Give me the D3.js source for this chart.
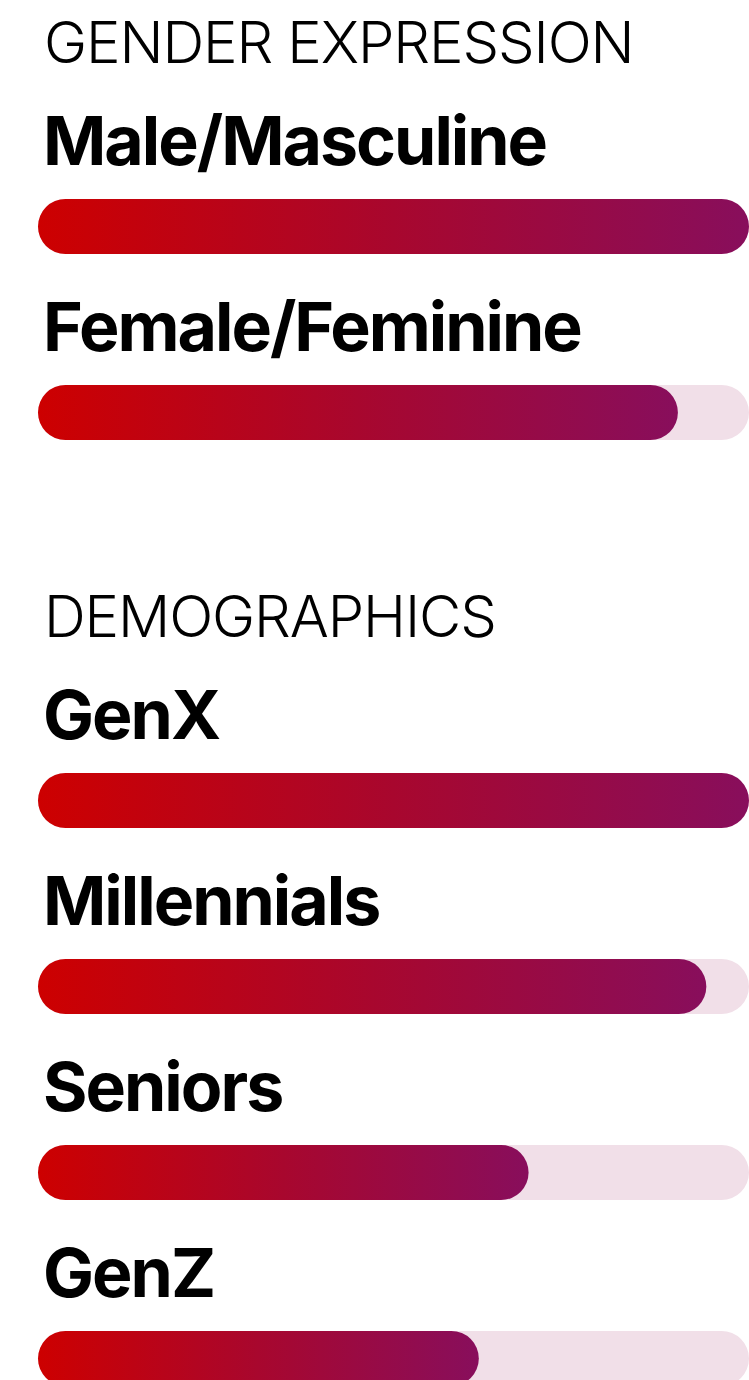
<!DOCTYPE html>
<html>
<head>
<meta charset="utf-8">
<script src="https://cdn.jsdelivr.net/npm/d3@7"></script>
<style>
  body { margin: 0; background: #fff; overflow: hidden; }
</style>
</head>
<body>
<script>
const width = 749;
const height = 1380;

// data
const sections = ["GENDER EXPRESSION", "DEMOGRAPHICS"];
const categories = [
  ["Male/Masculine", "Female/Feminine"],
  ["GenX", "Millennials", "Seniors", "GenZ"]
];
const values = [
  [100, 90],
  [100, 94, 69, 62]
];

const barLeft = 38;
const barRight = 749;
const barHeight = 55;
const rowStep = 186;
const headToBar = 136;
const labelGap = 34;
const sectionGap = 202;

const svg = d3.select("body").append("svg")
  .attr("width", width)
  .attr("height", height);

const defs = svg.append("defs");
const grad = defs.append("linearGradient")
  .attr("id", "barGrad")
  .attr("x1", "0%").attr("x2", "100%")
  .attr("y1", "0%").attr("y2", "0%");
grad.append("stop").attr("offset", "0%").attr("stop-color", "#cd0000");
grad.append("stop").attr("offset", "50%").attr("stop-color", "#a8072e");
grad.append("stop").attr("offset", "100%").attr("stop-color", "#880e5c");

const x = d3.scaleLinear().domain([0, 100]).range([barLeft, barRight]);

let headY = 63;
sections.forEach((title, s) => {
  const g = svg.append("g");

  g.append("text")
    .attr("x", 44)
    .attr("y", headY)
    .attr("font-family", "Inter, Lato, sans-serif")
    .attr("font-weight", 300)
    .attr("font-size", 58)
    .attr("letter-spacing", -1.1)
    .attr("fill", "#000")
    .text(title);

  const y = d3.scaleLinear()
    .domain([0, 1])
    .range([headY + headToBar, headY + headToBar + rowStep]);

  const rows = g.selectAll(".row")
    .data(categories[s].map((c, i) => ({ name: c, value: values[s][i], i })))
    .enter().append("g")
    .attr("class", "row");

  rows.append("text")
    .attr("x", 43)
    .attr("y", d => y(d.i) - labelGap)
    .attr("font-family", "Inter, 'Liberation Sans', sans-serif")
    .attr("font-weight", 700)
    .attr("font-size", 68)
    .attr("letter-spacing", -2)
    .attr("fill", "#000")
    .text(d => d.name);

  rows.append("rect")
    .attr("x", x(0))
    .attr("y", d => y(d.i))
    .attr("width", x(100) - x(0))
    .attr("height", barHeight)
    .attr("rx", barHeight / 2)
    .attr("fill", "#f1dfe8");

  rows.append("rect")
    .attr("x", x(0))
    .attr("y", d => y(d.i))
    .attr("width", d => x(d.value) - x(0))
    .attr("height", barHeight)
    .attr("rx", barHeight / 2)
    .attr("fill", "url(#barGrad)");

  headY += categories[s].length * rowStep + sectionGap;
});
</script>
</body>
</html>
